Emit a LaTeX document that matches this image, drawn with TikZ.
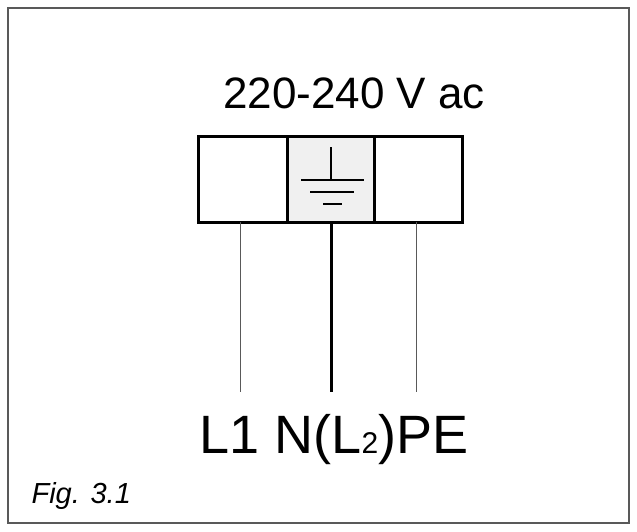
\documentclass[tikz,border=0pt]{standalone}
\usepackage{fontspec}
\setmainfont{Liberation Sans}
\begin{document}
\begin{tikzpicture}[x=1pt,y=-1pt,
    cell/.style={line width=3pt},
    wire/.style={line width=1pt, gray!70!black}]
    \useasboundingbox (0,0) rectangle (637,531);
    % frame
    \draw[line width=1.2pt, gray!70!black] (8,8) rectangle (629,523);
    % supply text
    \node (volt) at (354,93) {\fontsize{44}{46}\selectfont 220-240 V ac};

    % terminal block
    \fill[gray!12] (287,136) rectangle (374,222);
    \draw[cell] (198,136) rectangle (462,222);
    \draw[cell] (287,136) -- (287,222);
    \draw[cell] (374,136) -- (374,222);

    % earth symbol
    \draw[line width=2pt] (331,147) -- (331,180);
    \draw[line width=1.6pt] (301,180) -- (364,180);
    \draw[line width=2.6pt] (310,192) -- (354,192);
    \draw[line width=2.6pt] (323,204) -- (342,204);

    % wires
    \coordinate (l1) at (240,392);
    \coordinate (n) at (331,392);
    \coordinate (pe) at (416,392);
    \draw[wire] (240,222) -- (l1);
    \draw[line width=3pt] (331,222) -- (n);
    \draw[wire] (416,222) -- (pe);

    % labels
    \node[anchor=base] (lab) at (334,453) {\fontsize{54}{56}\selectfont L1 N(L{\fontsize{30}{32}\selectfont 2})PE};
    \node[anchor=base west] (fig) at (28,503) {\fontsize{29}{31}\selectfont\itshape Fig. 3.1};
\end{tikzpicture}
\end{document}
